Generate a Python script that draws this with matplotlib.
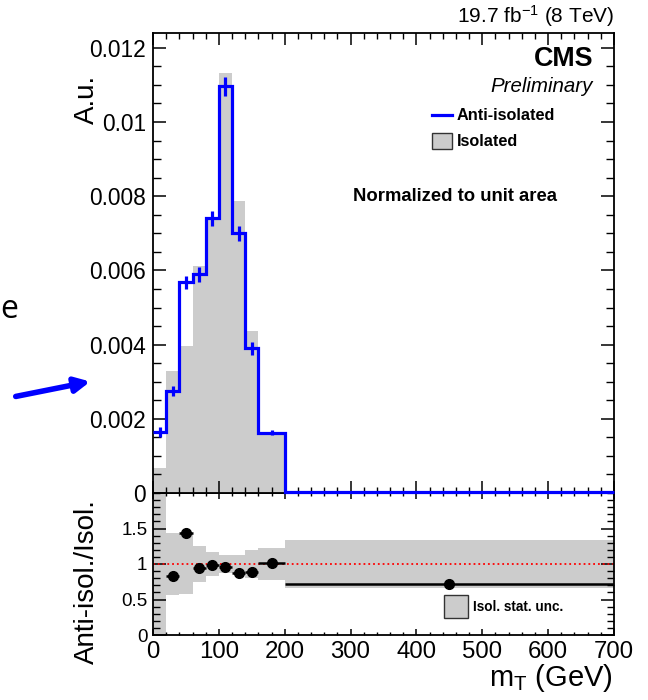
import matplotlib
matplotlib.use("Agg")
import matplotlib.pyplot as plt
import numpy as np
from matplotlib.lines import Line2D
from matplotlib.patches import Rectangle, FancyArrowPatch
from matplotlib.ticker import MultipleLocator, FixedLocator

plt.rcParams['font.family'] = ['Liberation Sans', 'DejaVu Sans']
plt.rcParams['mathtext.fontset'] = 'custom'
plt.rcParams['mathtext.rm'] = 'Liberation Sans'
plt.rcParams['mathtext.it'] = 'Liberation Sans:italic'

# m_T binning (GeV)
edges = [0, 20, 40, 60, 80, 100, 120, 140, 160, 200, 700]

# normalized distributions
anti_iso = [0.00165, 0.00275, 0.00568, 0.0059, 0.0074, 0.01096, 0.0070, 0.0039, 0.00163, 0.00004]
anti_iso_err = [0.00013, 0.00014, 0.00018, 0.0002, 0.00021, 0.00025, 0.0002, 0.00017, 0.00007, 0.0]
iso = [0.00068, 0.0033, 0.00396, 0.00613, 0.00745, 0.01132, 0.00787, 0.00438, 0.00163, 0.00005]

# ratio anti-isolated / isolated (first bin is off scale)
ratio = [np.nan, 0.83, 1.43, 0.95, 0.99, 0.96, 0.88, 0.89, 1.01, 0.72]
iso_stat_unc = [1.6, 0.43, 0.42, 0.25, 0.165, 0.12, 0.12, 0.2, 0.23, 0.335]

W, H = 648, 700
def fx(px):
    return px / W
def fy(py):
    return 1 - py / H

edges_a = np.array(edges, dtype=float)
centers = 0.5 * (edges_a[1:] + edges_a[:-1])
halfw = 0.5 * (edges_a[1:] - edges_a[:-1])
grey = '#cccccc'

fig = plt.figure(figsize=(6.48, 7.0), dpi=100)
ax = fig.add_axes([fx(153), fy(493), fx(614) - fx(153), fy(33) - fy(493)])
rax = fig.add_axes([fx(153), fy(635), fx(614) - fx(153), fy(493) - fy(635)])
# main panel on top so the outline is not hidden by the ratio pad
ax.set_zorder(2)
ax.patch.set_visible(False)

# main panel
ax.stairs(iso, edges, fill=True, color=grey, lw=0)
ax.stairs(anti_iso, edges, baseline=None, color='blue', lw=2.3, zorder=3, clip_on=False)
ax.errorbar(centers, anti_iso, yerr=anti_iso_err, fmt='none', ecolor='blue', elinewidth=2.3, capsize=0, zorder=3)
ax.set_xlim(0, 700)
ax.set_ylim(0, 0.0124)
ax.yaxis.set_major_locator(FixedLocator([0, 0.002, 0.004, 0.006, 0.008, 0.01, 0.012]))
ax.set_yticklabels(['0', '0.002', '0.004', '0.006', '0.008', '0.01', '0.012'])
ax.yaxis.set_minor_locator(MultipleLocator(0.0005))
ax.xaxis.set_major_locator(MultipleLocator(100))
ax.xaxis.set_minor_locator(MultipleLocator(20))
ax.tick_params(axis='y', which='major', direction='in', length=9.5, width=1.1, labelsize=16.4, pad=5, right=True)
ax.tick_params(axis='y', which='minor', direction='in', length=5.5, width=1.0, right=True)
ax.tick_params(axis='x', which='major', direction='in', length=8.5, width=1.1, top=True, labelbottom=False)
ax.tick_params(axis='x', which='minor', direction='in', length=4.5, width=1.0, top=True)
for s in ax.spines.values():
    s.set_linewidth(1.3)

# ratio panel
rax.bar(centers, 2 * np.array(iso_stat_unc), bottom=1 - np.array(iso_stat_unc),
        width=2 * halfw, color=grey, lw=0)
rax.axhline(1, color='red', ls=':', lw=1.3)
rax.errorbar(centers, ratio, xerr=halfw, fmt='o', color='black', ms=7, elinewidth=1.8, capsize=0)
rax.set_xlim(0, 700)
rax.set_ylim(0, 2)
rax.yaxis.set_major_locator(FixedLocator([0, 0.5, 1, 1.5]))
rax.set_yticklabels(['0', '0.5', '1', '1.5'])
rax.yaxis.set_minor_locator(MultipleLocator(0.1))
rax.xaxis.set_major_locator(MultipleLocator(100))
rax.xaxis.set_minor_locator(MultipleLocator(20))
rax.tick_params(axis='y', which='major', direction='in', length=9.5, width=1.1, labelsize=13.5, pad=4, right=True)
rax.tick_params(axis='y', which='minor', direction='in', length=5, width=1.0, right=True)
rax.tick_params(axis='x', which='major', direction='in', length=4, width=1.1, labelsize=17.3, pad=4.5, top=True)
rax.tick_params(axis='x', which='minor', direction='in', length=2.2, width=1.0, top=True)
for s in rax.spines.values():
    s.set_linewidth(1.3)

# axis titles
fig.text(fx(87), fy(75), 'A.u.', rotation=90, ha='center', va='top', fontsize=20)
fig.text(fx(87), fy(582), 'Anti-isol./Isol.', rotation=90, ha='center', va='center', fontsize=20)
fig.text(fx(613), fy(686), r'm$_{\mathregular{T}}$ (GeV)', ha='right', va='baseline', fontsize=21)

# labels
fig.text(fx(614), fy(16), r'19.7 fb$^{\mathregular{-1}}$ (8 TeV)', ha='right', va='center', fontsize=15)
fig.text(fx(593), fy(59), 'CMS', ha='right', va='center', fontsize=19.4, fontweight='bold')
fig.text(fx(593), fy(86), 'Preliminary', ha='right', va='center', fontsize=14.8, style='italic')
fig.text(fx(455), fy(197), 'Normalized to unit area', ha='center', va='center', fontsize=13.3, fontweight='bold')

# legend, main panel
fig.add_artist(Line2D([fx(432), fx(452)], [fy(115), fy(115)], color='blue', lw=2.3))
fig.text(fx(457), fy(115), 'Anti-isolated', ha='left', va='center', fontsize=11.7, fontweight='bold')
fig.add_artist(Rectangle((fx(432), fy(149)), fx(20), 16 / H, transform=fig.transFigure,
                         facecolor=grey, edgecolor='#333333', lw=1.0))
fig.text(fx(457), fy(141), 'Isolated', ha='left', va='center', fontsize=11.7, fontweight='bold')

# legend, ratio panel
fig.add_artist(Rectangle((fx(444), fy(618)), fx(23.5), 23 / H, transform=fig.transFigure,
                         facecolor=grey, edgecolor='#333333', lw=1.0))
fig.text(fx(473), fy(607), 'Isol. stat. unc.', ha='left', va='center', fontsize=9.8, fontweight='bold')

# slide annotation on the left
fig.text(fx(0), fy(318), 'e', ha='left', va='baseline', fontsize=23, family=['Open Sans', 'DejaVu Sans'])
fig.add_artist(FancyArrowPatch((fx(13), fy(397)), (fx(93), fy(381)), transform=fig.transFigure,
                               arrowstyle='-|>', mutation_scale=22, lw=4, color='blue'))

fig.savefig('out.png', dpi=100)
